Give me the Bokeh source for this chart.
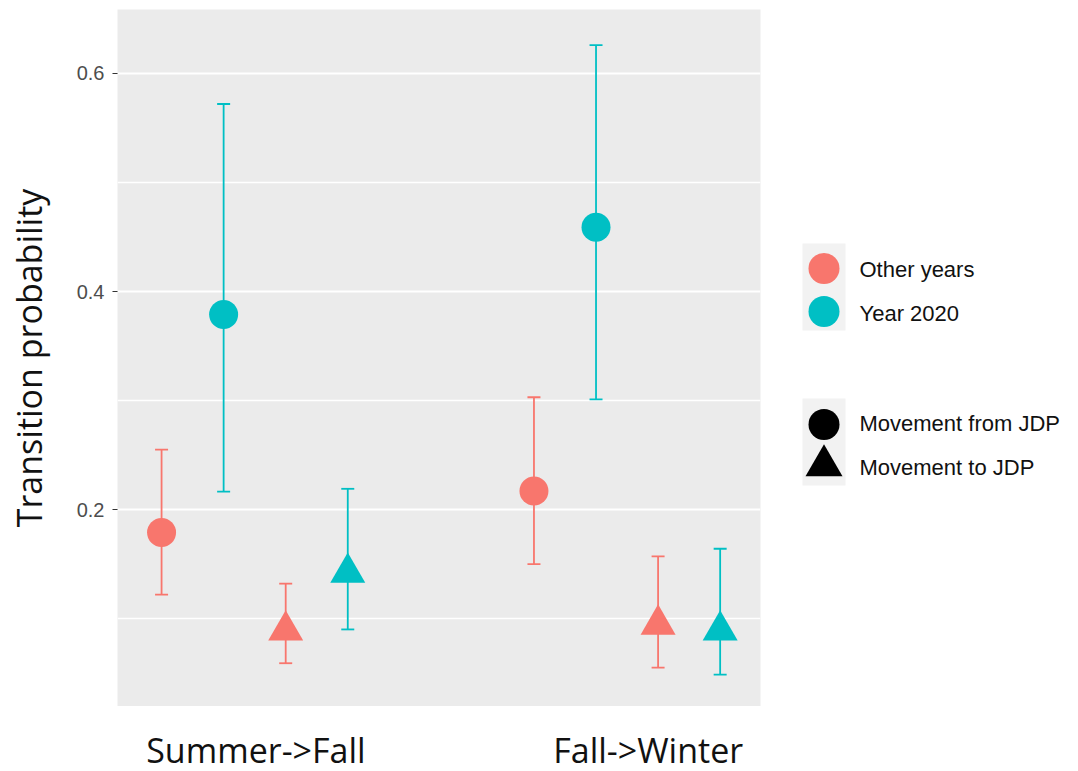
from bokeh.plotting import figure
from bokeh.layouts import row, column
from bokeh.models import (ColumnDataSource, Whisker, TeeHead, Range1d, FixedTicker)
from bokeh.core.properties import value
from bokeh.embed import file_html
from bokeh.resources import INLINE

# ---------------- data ----------------
groups = ["Summer->Fall", "Fall->Winter"]
series = ["Other years", "Year 2020"]
movements = ["Movement from JDP", "Movement to JDP"]

other_from = [0.179, 0.217]
other_from_lo = [0.122, 0.150]
other_from_hi = [0.255, 0.303]

y2020_from = [0.379, 0.459]
y2020_from_lo = [0.2165, 0.301]
y2020_from_hi = [0.572, 0.626]

other_to = [0.089, 0.0945]
other_to_lo = [0.059, 0.055]
other_to_hi = [0.132, 0.157]

y2020_to = [0.142, 0.089]
y2020_to_lo = [0.090, 0.0485]
y2020_to_hi = [0.219, 0.164]

y_ticks = [0.2, 0.4, 0.6]
y_tick_labels = ["0.2", "0.4", "0.6"]
y_minor = [0.1, 0.3, 0.5]

# ---------------- styles ----------------
colors = {"Other years": "#F8766D", "Year 2020": "#00BFC4"}
markers = {"Movement from JDP": "circle", "Movement to JDP": "triangle"}
msize = {"Movement from JDP": 29, "Movement to JDP": 35}

# dodge positions: group*6 + movement*2 + series + 1
def pos(g, m, s):
    return g * 6 + m * 2 + s + 1

table = {
    ("Other years", "Movement from JDP"): (other_from, other_from_lo, other_from_hi),
    ("Year 2020", "Movement from JDP"): (y2020_from, y2020_from_lo, y2020_from_hi),
    ("Other years", "Movement to JDP"): (other_to, other_to_lo, other_to_hi),
    ("Year 2020", "Movement to JDP"): (y2020_to, y2020_to_lo, y2020_to_hi),
}

p = figure(width=770, height=706, output_backend="svg", toolbar_location=None,
           x_range=Range1d(0.29, 10.65), y_range=Range1d(0.0193, 0.6587),
           min_border_left=117, min_border_right=10, min_border_top=9,
           min_border_bottom=0, x_axis_type=None)
p.border_fill_color = "white"
p.background_fill_color = "#EBEBEB"
p.outline_line_color = None
p.xgrid.grid_line_color = None
p.ygrid.grid_line_color = "white"
p.ygrid.grid_line_width = 2
p.ygrid.minor_grid_line_color = "white"
p.ygrid.minor_grid_line_width = 1.7

ya = p.yaxis[0]
ya.ticker = FixedTicker(ticks=y_ticks, minor_ticks=y_minor)
ya.major_label_overrides = {t: l for t, l in zip(y_ticks, y_tick_labels)}
ya.axis_line_color = None
ya.major_tick_line_color = "#333333"
ya.major_tick_out = 5
ya.major_tick_in = 0
ya.minor_tick_out = 0
ya.minor_tick_in = 0
ya.major_label_standoff = 8
ya.major_label_text_font = "Liberation Sans"
ya.major_label_text_font_size = "20px"
ya.major_label_text_color = "#4D4D4D"
ya.axis_label = "Transition probability"
ya.axis_label_text_font = "Open Sans"
ya.axis_label_text_font_size = "34px"
ya.axis_label_text_font_style = "normal"
ya.axis_label_text_color = "#111111"
ya.axis_label_standoff = 22

for (s, m), (vals, lo, hi) in table.items():
    si = series.index(s)
    mi = movements.index(m)
    xs = [pos(g, mi, si) for g in range(len(groups))]
    src = ColumnDataSource(dict(x=xs, y=vals, lo=lo, hi=hi))
    w = Whisker(source=src, base="x", upper="hi", lower="lo",
                line_color=colors[s], line_width=1.8,
                upper_head=TeeHead(size=13, line_color=colors[s], line_width=1.8),
                lower_head=TeeHead(size=13, line_color=colors[s], line_width=1.8))
    p.add_layout(w)
    p.scatter("x", "y", source=src, marker=markers[m], size=msize[m],
              fill_color=colors[s], line_color=None)

# ---------------- x group labels ----------------
label_x = [2.52, 8.84]
lab = figure(width=770, height=65, output_backend="svg", toolbar_location=None,
             x_range=p.x_range, y_range=Range1d(771, 706),
             min_border_left=117, min_border_right=10, min_border_top=0,
             min_border_bottom=0, x_axis_type=None, y_axis_type=None)
lab.outline_line_color = None
lab.background_fill_color = "white"
lab.border_fill_color = "white"
lab.grid.visible = False
lab.text(x=label_x, y=[749, 749], text=groups, text_font=value("Open Sans"),
         text_font_size="34px", text_align="center", text_baseline="middle",
         text_color="#111111")

# ---------------- legend panel ----------------
leg = figure(width=308, height=771, output_backend="svg", toolbar_location=None,
             x_range=Range1d(770, 1078), y_range=Range1d(771, 0),
             min_border=0, x_axis_type=None, y_axis_type=None)
leg.outline_line_color = None
leg.background_fill_color = "white"
leg.border_fill_color = "white"
leg.grid.visible = False

key_x = 823.5
leg.rect(x=[key_x, key_x], y=[286.5, 441.5], width=43, height=87,
         fill_color="#F2F2F2", line_color=None)
# colour legend
leg.scatter(x=[key_x, key_x], y=[268, 311], marker="circle", size=31,
            fill_color=[colors[s] for s in series], line_color=None)
leg.text(x=[859, 859], y=[269, 312.5], text=series,
         text_font=value("Liberation Sans"), text_font_size="22px",
         text_baseline="middle", text_color="#111111")
# shape legend
leg.scatter(x=[key_x], y=[424], marker="circle", size=31, fill_color="black", line_color=None)
leg.scatter(x=[key_x], y=[465], marker="triangle", size=37, fill_color="black", line_color=None)
leg.text(x=[859, 859], y=[423, 467], text=movements,
         text_font=value("Liberation Sans"), text_font_size="22px",
         text_baseline="middle", text_color="#111111")

layout = row(column(p, lab), leg)
open("out.html", "w").write(file_html(layout, INLINE))
